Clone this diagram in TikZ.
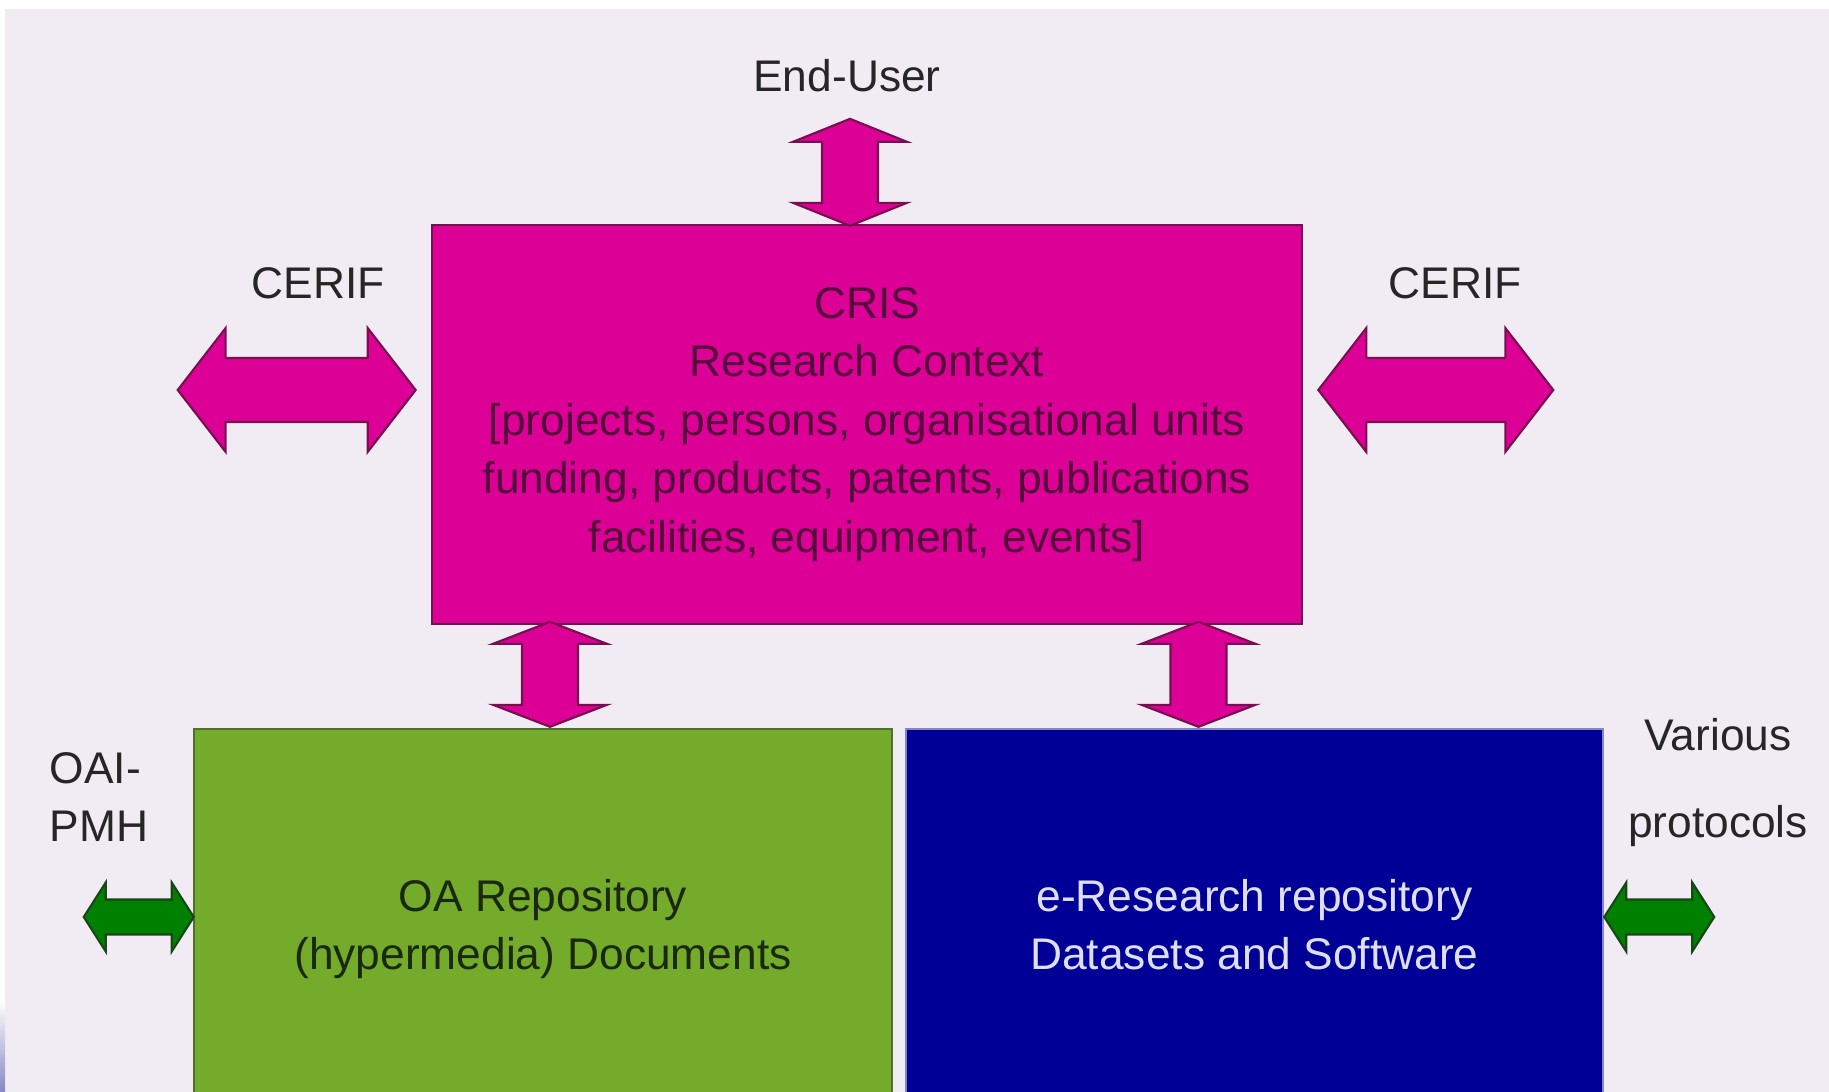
\documentclass[tikz,border=0pt]{standalone}
\usepackage{fontspec}
\setmainfont{Liberation Sans}
\usetikzlibrary{calc,positioning}

\definecolor{slidebg}{RGB}{241,236,243}
\definecolor{crispink}{RGB}{220,0,150}
\definecolor{crisedge}{RGB}{120,16,80}
\definecolor{cristext}{RGB}{85,10,60}
\definecolor{oagreen}{RGB}{116,171,43}
\definecolor{oaedge}{RGB}{82,110,52}
\definecolor{oatext}{RGB}{25,40,15}
\definecolor{resblue}{RGB}{0,0,150}
\definecolor{resedge}{RGB}{130,136,190}
\definecolor{restext}{RGB}{222,222,255}
\definecolor{protogreen}{RGB}{0,128,0}
\definecolor{protoedge}{RGB}{25,70,25}

\tikzset{
	plainlabel/.style={text=black!85, inner sep=0pt, font=\fontsize{12.6}{16.6}\selectfont},
	box/.style={draw, line width=0.6pt, inner sep=0pt, align=center, font=\fontsize{12.6}{16.6}\selectfont},
	pinkarrow/.style={fill=crispink, draw=crisedge, line width=0.6pt},
	greenarrow/.style={fill=protogreen, draw=protoedge, line width=0.6pt},
	% half length, head length, head half width, shaft half width
	pics/dblarrow/.style n args={4}{code={
		\draw[pic actions] (-#1,0) -- (-#1+#2,#3) -- (-#1+#2,#4) -- (#1-#2,#4) -- (#1-#2,#3)
			-- (#1,0) -- (#1-#2,-#3) -- (#1-#2,-#4) -- (-#1+#2,-#4) -- (-#1+#2,-#3) -- cycle;
	}}
}

\begin{document}
\begin{tikzpicture}[x=0.01cm, y=-0.01cm]
	\clip (0,0) rectangle (1829,1092);
	\fill[white] (0,0) rectangle (1829,1092);
	\fill[slidebg] (5,9) rectangle (1829,1092);
	\shade[top color=white, bottom color=blue!35!gray!70] (0,1000) rectangle (5,1092);

	% boxes
	\node[box, fill=crispink, draw=crisedge, text=cristext, minimum width=8.7cm, minimum height=3.99cm] (cris) at (867,424.5)
		{CRIS\\Research Context\\{[}projects, persons, organisational units\\funding, products, patents, publications\\facilities, equipment, events{]}};
	\node[box, fill=oagreen, draw=oaedge, text=oatext, text depth=0pt, minimum width=6.98cm, minimum height=3.91cm] (oa) at (543,924.5)
		{OA Repository\\(hypermedia) Documents};
	\node[box, fill=resblue, draw=resedge, text=restext, text depth=0pt, minimum width=6.97cm, minimum height=3.91cm] (eres) at (1254.5,924.5)
		{e-Research repository\\Datasets and Software};

	% labels
	\node[plainlabel] (user) at (847,76) {End-User};
	\node[plainlabel] (cerifl) at (318,283) {CERIF};
	\node[plainlabel] (cerifr) at (1455,283) {CERIF};
	\node[plainlabel, align=left] (oaipmh) at (99,797) {OAI-\\PMH};
	\node[plainlabel, align=center, font=\fontsize{12.6}{24.7}\selectfont] (various) at (1718,782.5) {Various\\protocols};

	% arrows
	\pic[pinkarrow, rotate=90] at ($(cris.north)+(-17,-51.5)$) {dblarrow={53.5}{23}{57}{28}};
	\pic[pinkarrow, rotate=90] at ($(oa.north)+(7,-53.5)$) {dblarrow={52.5}{22}{57}{28}};
	\pic[pinkarrow, rotate=90] at ($(eres.north)+(-56,-53.5)$) {dblarrow={52.5}{22}{57}{28}};
	\pic[pinkarrow] at ($(cris.west)+(-134,-34.5)$) {dblarrow={119}{48}{62}{32}};
	\pic[pinkarrow] at ($(cris.east)+(132.5,-34.5)$) {dblarrow={117.5}{48}{62}{32}};
	\pic[greenarrow] at ($(oa.west)+(-54,-7.5)$) {dblarrow={55}{22}{34.5}{17.5}};
	\pic[greenarrow] at ($(eres.east)+(55,-7.5)$) {dblarrow={55}{22}{34.5}{17.5}};
\end{tikzpicture}
\end{document}
